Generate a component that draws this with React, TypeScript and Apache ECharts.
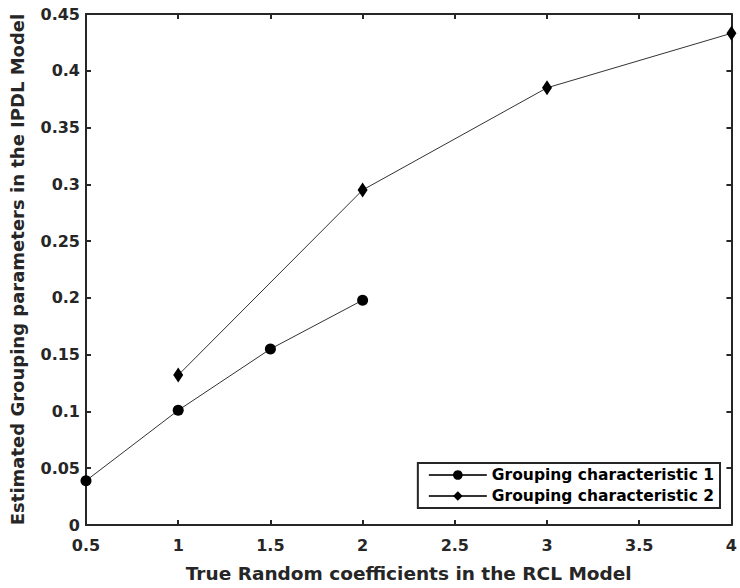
import React, { useEffect, useRef } from "react";
import * as echarts from "echarts";

const xTicks = { min: 0.5, max: 4, interval: 0.5 };
const yTicks = { min: 0, max: 0.45, interval: 0.05 };

const series1Name = "Grouping characteristic 1";
const series1X = [0.5, 1, 1.5, 2];
const series1Y = [0.039, 0.101, 0.155, 0.198];

const series2Name = "Grouping characteristic 2";
const series2X = [1, 2, 3, 4];
const series2Y = [0.132, 0.295, 0.385, 0.433];

const xTitle = "True Random coefficients in the RCL Model";
const yTitle = "Estimated Grouping parameters in the IPDL Model";

const FONT = "'DejaVu Sans', sans-serif";
const AX = "#262626";

export default function App() {
  const ref = useRef<HTMLDivElement>(null);
  useEffect(() => {
    document.body.style.margin = "0";
    if (!ref.current) return;
    const chart = echarts.init(ref.current, undefined, { renderer: "svg" });
    const axisLine = { show: true, onZero: false, lineStyle: { color: AX, width: 2 } };
    const axisTick = { show: true, inside: true, length: 5, lineStyle: { color: AX, width: 2 } };
    const labelStyle = { color: AX, fontSize: 16, fontWeight: "bold" as const, fontFamily: FONT };
    chart.setOption({
      animation: false,
      textStyle: { fontFamily: FONT },
      grid: { left: 86, right: 4, top: 14, bottom: 61, containLabel: false },
      legend: {
        orient: "vertical",
        right: 20,
        top: 463,
        borderColor: AX,
        borderWidth: 2,
        padding: [4, 6, 4, 10],
        itemGap: 5,
        itemWidth: 58,
        itemHeight: 12,
        textStyle: { color: "#000", fontSize: 15.5, fontWeight: "bold", fontFamily: FONT },
        data: [series1Name, series2Name],
      },
      xAxis: [
        {
          type: "value",
          ...xTicks,
          name: xTitle,
          nameLocation: "middle",
          nameGap: 39,
          nameTextStyle: { ...labelStyle, fontSize: 18.5 },
          axisLine,
          axisTick,
          splitLine: { show: false },
          axisLabel: { ...labelStyle, margin: 12 },
        },
        {
          type: "value",
          ...xTicks,
          position: "top",
          axisLine,
          axisTick,
          splitLine: { show: false },
          axisLabel: { show: false },
        },
      ],
      yAxis: [
        {
          type: "value",
          ...yTicks,
          name: yTitle,
          nameLocation: "middle",
          nameGap: 60,
          nameTextStyle: { ...labelStyle, fontSize: 18 },
          axisLine,
          axisTick,
          splitLine: { show: false },
          axisLabel: { ...labelStyle, margin: 6 },
        },
        {
          type: "value",
          ...yTicks,
          position: "right",
          axisLine,
          axisTick,
          splitLine: { show: false },
          axisLabel: { show: false },
        },
      ],
      series: [
        {
          name: series1Name,
          type: "line",
          data: series1X.map((x, i) => [x, series1Y[i]]),
          symbol: "circle",
          symbolSize: 11,
          itemStyle: { color: "#000" },
          lineStyle: { color: "#333", width: 1 },
          z: 5,
        },
        {
          name: series2Name,
          type: "line",
          data: series2X.map((x, i) => [x, series2Y[i]]),
          symbol: "diamond",
          symbolSize: [10, 15],
          itemStyle: { color: "#000" },
          lineStyle: { color: "#333", width: 1 },
          z: 5,
        },
      ],
    });
    return () => chart.dispose();
  }, []);
  return <div ref={ref} style={{ width: 740, height: 588 }} />;
}
